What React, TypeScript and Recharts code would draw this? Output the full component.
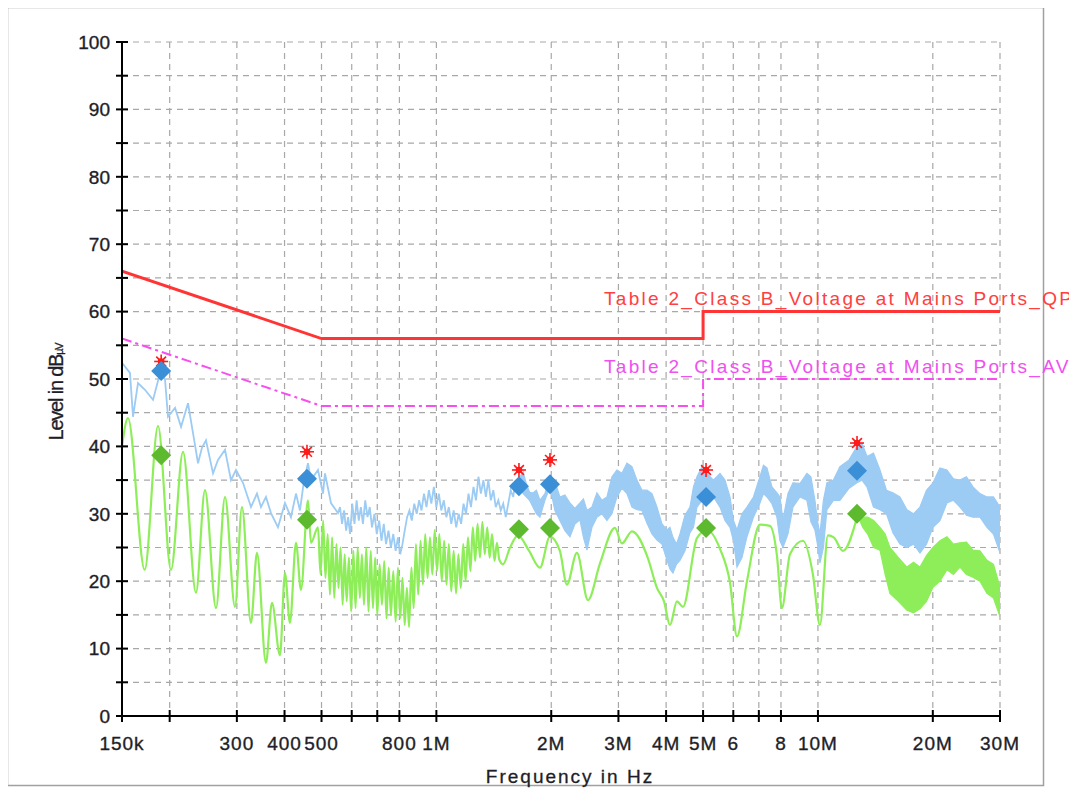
import React from "react";
import {
  ComposedChart,
  XAxis,
  YAxis,
  CartesianGrid,
  Line,
  Area,
  Scatter,
} from "recharts";

// axis ticks (frequency in MHz, log scale)
const xTicks = [0.15, 0.2, 0.3, 0.4, 0.5, 0.6, 0.7, 0.8, 1, 2, 3, 4, 5, 6, 7, 8, 10, 20, 30];
const xTickLabels = ["150k", "", "300", "400", "500", "", "", "800", "1M", "2M", "3M", "4M", "5M", "6", "", "8", "10M", "20M", "30M"];
const yTicks = [0, 5, 10, 15, 20, 25, 30, 35, 40, 45, 50, 55, 60, 65, 70, 75, 80, 85, 90, 95, 100];

// limit lines
const qpLimitFreq = [0.15, 0.5, 5, 5, 30];
const qpLimitLevel = [66, 56, 56, 60, 60];
const avLimitFreq = [0.15, 0.5, 5, 5, 30];
const avLimitLevel = [56, 46, 46, 50, 50];

// peak scan (light blue), thin part up to ~1.65 MHz
const pkLineFreq = [
  0.15, 0.1574, 0.1603, 0.1652, 0.1723, 0.1809, 0.1887, 0.1944, 0.198, 0.2066,
  0.2142, 0.2234, 0.2302, 0.2373, 0.243, 0.249, 0.2598, 0.2677, 0.2793, 0.2895,
  0.2984, 0.3113, 0.3267, 0.3387, 0.347, 0.3576, 0.3686, 0.3845, 0.401, 0.4158,
  0.4286, 0.439, 0.45, 0.4608, 0.4692, 0.4895, 0.5045, 0.5106, 0.5294, 0.5523,
  0.559, 0.566, 0.573, 0.58, 0.587, 0.594, 0.602, 0.61, 0.618, 0.626,
  0.634, 0.642, 0.651, 0.66, 0.669, 0.678, 0.688, 0.698, 0.708, 0.718,
  0.728, 0.738, 0.749, 0.76, 0.771, 0.782, 0.793, 0.804, 0.815, 0.826,
  0.838, 0.85, 0.862, 0.875, 0.888, 0.901, 0.914, 0.928, 0.942, 0.956,
  0.97, 0.985, 1.0, 1.015, 1.03, 1.046, 1.062, 1.078, 1.094, 1.11,
  1.127, 1.144, 1.161, 1.178, 1.196, 1.214, 1.232, 1.251, 1.27, 1.289,
  1.308, 1.328, 1.348, 1.368, 1.389, 1.41, 1.431, 1.453, 1.475, 1.497,
  1.52, 1.543, 1.566, 1.59, 1.614, 1.638, 1.656,
];
const pkLineLevel = [
  52.4, 50.9, 44.4, 49.4, 48.4, 46.9, 50.9, 50.0, 44.4, 45.7,
  42.9, 46.4, 42.0, 37.5, 39.8, 40.9, 36.0, 38.0, 39.5, 35.0,
  36.5, 34.6, 31.0, 33.0, 31.0, 32.5, 30.1, 28.0, 31.6, 29.5,
  33.0, 30.5, 35.0, 37.5, 35.0, 36.5, 33.0, 36.0, 31.6, 30.1,
  31.0, 28.5, 30.5, 27.5, 29.5, 27.0, 31.5, 28.5, 32.0, 29.0,
  31.0, 28.5, 32.0, 29.5, 31.0, 28.0, 30.0, 27.0, 29.0, 26.0,
  28.5, 25.5, 27.5, 25.0, 27.0, 24.5, 26.5, 24.0, 25.5, 27.5,
  29.5, 30.5, 29.0, 31.5, 30.0, 32.0, 30.5, 33.0, 31.0, 33.5,
  31.5, 34.0, 31.0, 33.0, 30.5, 32.0, 29.5, 31.0, 28.5, 30.5,
  28.0, 30.0, 28.5, 31.5, 30.0, 33.0, 31.0, 34.0, 32.0, 35.5,
  33.0, 35.0, 32.5, 35.0, 32.0, 33.5, 31.0, 32.0, 30.5, 31.5,
  29.5, 31.5, 33.5, 32.5, 35.0, 34.0, 35.0,
];

// peak scan, dense part drawn as an envelope
const pkBandFreq = [
  1.656, 1.688, 1.72, 1.755, 1.791, 1.829, 1.868, 1.925, 1.984, 2.045,
  2.107, 2.172, 2.239, 2.307, 2.378, 2.429, 2.481, 2.557, 2.635, 2.716,
  2.799, 2.885, 2.973, 3.064, 3.158, 3.255, 3.355, 3.458, 3.564, 3.673,
  3.785, 3.901, 4.021, 4.094, 4.169, 4.258, 4.349, 4.482, 4.62, 4.718,
  4.819, 4.966, 5.118, 5.323, 5.537, 5.706, 5.881, 6.006, 6.135, 6.323,
  6.516, 6.776, 7.047, 7.197, 7.351, 7.576, 7.808, 7.951, 8.096, 8.344,
  8.6, 8.97, 9.356, 9.585, 9.819, 9.969, 10.12, 10.336, 10.557, 10.98,
  11.419, 12.07, 12.653, 13.04, 13.441, 13.98, 14.54, 15.12, 15.72, 16.4,
  17.11, 17.8, 18.51, 19.25, 20.02, 20.88, 21.78, 22.65, 23.56, 24.5,
  25.48, 26.58, 27.73, 28.84, 30,
];
const pkBandHigh = [
  35.5, 36.2, 34.5, 33.2, 33.1, 33.5, 32.0, 33.0, 35.5, 34.8,
  32.5, 32.8, 31.6, 30.8, 31.6, 32.2, 30.5, 31.0, 33.1, 32.0,
  32.5, 35.5, 36.5, 36.0, 37.5, 37.0, 35.0, 33.5, 33.5, 33.0,
  31.0, 28.5, 27.6, 28.0, 26.5, 25.5, 27.0, 29.8, 31.0, 34.0,
  35.5, 37.0, 36.0, 35.0, 36.0, 35.0, 32.5, 29.0, 27.6, 30.0,
  31.0, 32.5, 35.5, 37.2, 36.8, 34.0, 33.1, 32.5, 29.1, 33.0,
  34.6, 34.5, 36.0, 35.5, 32.0, 29.0, 27.0, 32.0, 34.6, 35.0,
  37.0, 38.0, 40.0, 40.5, 38.5, 39.0, 36.5, 33.5, 33.1, 32.5,
  30.6, 30.0, 31.0, 33.5, 34.6, 36.8, 36.5, 35.2, 35.0, 35.5,
  34.0, 33.0, 32.5, 32.5, 31.0,
];
const pkBandLow = [
  34.0, 33.0, 32.5, 32.0, 31.0, 30.0, 29.5, 32.0, 34.0, 30.5,
  29.0, 27.5, 26.6, 28.5, 29.1, 26.5, 24.6, 28.0, 29.5, 30.0,
  29.0, 30.0, 32.5, 33.8, 33.0, 31.0, 30.6, 30.5, 28.6, 27.0,
  26.1, 25.5, 23.1, 21.8, 21.2, 22.5, 23.1, 24.5, 27.2, 28.0,
  31.0, 32.0, 31.6, 32.5, 31.0, 29.0, 28.0, 26.0, 22.1, 23.5,
  26.6, 29.5, 31.6, 33.0, 32.5, 31.5, 29.5, 26.0, 25.0, 27.0,
  31.0, 32.5, 32.0, 28.8, 27.6, 25.5, 22.7, 25.0, 30.6, 32.0,
  32.0, 33.8, 34.6, 35.0, 34.0, 31.0, 30.6, 30.0, 27.2, 25.5,
  25.0, 25.5, 24.2, 25.5, 28.0, 29.0, 31.6, 32.0, 31.0, 29.8,
  29.5, 29.5, 28.0, 27.0, 24.2,
];

// average scan (light green), thin part up to ~12.7 MHz
const avLineFreq = [
  0.15, 0.1555, 0.172, 0.1864, 0.2016, 0.2168, 0.2344, 0.2475, 0.2645, 0.2793,
  0.2966, 0.3094, 0.3267, 0.3387, 0.3576, 0.3708, 0.3891, 0.401, 0.4133, 0.4286,
  0.4417, 0.4608, 0.4692, 0.4895, 0.497, 0.505, 0.512, 0.519, 0.526, 0.533,
  0.54, 0.547, 0.554, 0.561, 0.568, 0.575, 0.582, 0.59, 0.598, 0.606,
  0.614, 0.622, 0.63, 0.638, 0.646, 0.655, 0.664, 0.673, 0.682, 0.691,
  0.7, 0.71, 0.72, 0.73, 0.74, 0.75, 0.76, 0.771, 0.782, 0.793,
  0.804, 0.815, 0.826, 0.837, 0.848, 0.86, 0.872, 0.884, 0.896, 0.909,
  0.922, 0.935, 0.948, 0.962, 0.976, 0.99, 1.004, 1.018, 1.033, 1.048,
  1.063, 1.078, 1.094, 1.11, 1.126, 1.142, 1.159, 1.176, 1.193, 1.21,
  1.228, 1.246, 1.264, 1.282, 1.301, 1.32, 1.339, 1.359, 1.379, 1.399,
  1.42, 1.441, 1.462, 1.4946, 1.56, 1.636, 1.75, 1.868, 1.984, 2.107,
  2.198, 2.335, 2.496, 2.683, 2.937, 3.064, 3.255, 3.585, 3.785, 3.95,
  4.094, 4.271, 4.428, 4.819, 5.118, 5.537, 5.881, 6.135, 6.516, 7.047,
  7.485, 7.808, 8.047, 8.446, 9.133, 9.701, 10.12, 10.62, 11.0, 11.628,
  12.73,
];
const avLineLevel = [
  40.0, 44.2, 21.7, 43.0, 21.7, 39.2, 18.3, 33.5, 16.0, 32.5,
  16.2, 31.0, 13.8, 24.2, 7.9, 16.8, 9.0, 21.2, 13.8, 25.7,
  18.7, 32.0, 25.7, 28.0, 21.0, 29.0, 20.5, 27.0, 18.0, 26.5,
  17.5, 25.5, 19.0, 25.0, 16.5, 24.0, 17.0, 23.5, 15.5, 24.5,
  16.0, 25.0, 17.5, 24.0, 16.5, 25.0, 15.5, 24.5, 16.0, 23.5,
  15.0, 22.5, 16.5, 23.0, 14.5, 22.0, 15.0, 21.5, 14.0, 22.0,
  14.5, 20.5, 13.5, 19.0, 13.2, 22.0, 16.0, 25.5, 18.0, 26.0,
  19.5, 27.0, 20.5, 26.5, 21.0, 27.6, 21.5, 27.0, 20.0, 26.0,
  19.5, 25.5, 18.5, 24.5, 18.2, 24.0, 19.0, 25.5, 20.0, 26.5,
  21.5, 28.0, 23.0, 28.5, 23.5, 28.8, 24.0, 28.0, 23.5, 27.0,
  23.0, 25.7, 23.2, 22.5, 25.0, 26.8, 24.5, 22.0, 26.6, 24.5,
  19.5, 24.2, 17.2, 22.6, 27.9, 25.6, 27.4, 23.4, 19.0, 17.0,
  13.5, 17.0, 16.2, 26.4, 27.6, 24.8, 19.8, 11.8, 20.0, 28.4,
  28.2, 23.8, 16.0, 24.0, 26.0, 21.0, 13.5, 26.8, 26.5, 24.5,
  30.0,
];

// average scan, dense part above ~12.7 MHz
const avBandFreq = [
  12.73, 13.1, 13.5, 14.0, 14.54, 15.0, 15.44, 16.25, 17.11, 17.8,
  18.51, 19.25, 20.02, 20.88, 21.78, 22.65, 23.56, 24.5, 25.48, 26.58,
  27.73, 28.84, 30,
];
const avBandHigh = [
  30.3, 29.5, 29.5, 29.0, 28.0, 27.0, 25.0, 23.5, 22.1, 22.8,
  22.1, 23.8, 25.0, 26.0, 26.6, 25.5, 25.7, 25.8, 24.6, 24.5,
  23.1, 22.5, 19.1,
];
const avBandLow = [
  29.6, 28.0, 27.0, 25.0, 24.6, 21.0, 18.2, 17.0, 15.7, 15.3,
  15.9, 17.0, 19.1, 20.0, 21.7, 21.0, 22.1, 21.0, 20.6, 20.0,
  18.2, 17.5, 14.7,
];

// final measurement markers
const markFreq = [0.19, 0.458, 1.646, 1.985, 5.09, 12.66];
const qpPeakLevel = [52.6, 39.2, 36.5, 38.0, 36.5, 40.5];
const qpFinalLevel = [51.2, 35.2, 34.1, 34.4, 32.5, 36.4];
const avFinalLevel = [38.7, 29.1, 27.7, 27.9, 27.9, 30.0];

const toRows = (f: number[], v: number[]) => f.map((x, i) => ({ f: x, v: v[i] }));
const toRange = (f: number[], lo: number[], hi: number[]) =>
  f.map((x, i) => ({ f: x, r: [lo[i], hi[i]] }));

const qpLimitRows = toRows(qpLimitFreq, qpLimitLevel);
const avLimitRows = toRows(avLimitFreq, avLimitLevel);
const pkLineRows = toRows(pkLineFreq, pkLineLevel);
const pkBandRows = toRange(pkBandFreq, pkBandLow, pkBandHigh);
const avLineRows = toRows(avLineFreq, avLineLevel);
const avBandRows = toRange(avBandFreq, avBandLow, avBandHigh);
const starRows = toRows(markFreq, qpPeakLevel);
const qpRows = toRows(markFreq, qpFinalLevel);
const avMarkRows = toRows(markFreq, avFinalLevel);

const FONT = "'Liberation Sans', Arial, sans-serif";
const TEXT = "#1e1e28";
const PK = "#9ccbf4";
const AV = "#8eee5a";

function XTick(props: any) {
  const { x, y, payload } = props;
  const label = xTickLabels[xTicks.indexOf(payload.value)] ?? "";
  return (
    <g>
      <line x1={x} x2={x} y1={y - 27} y2={y - 15} stroke="#000" strokeWidth={2} />
      <text x={x} y={y} dy="0.71em" textAnchor="middle" fontFamily={FONT} fontSize={19}
        letterSpacing={1} fill={TEXT} stroke={TEXT} strokeWidth={0.35}>
        {label}
      </text>
    </g>
  );
}

function YTick(props: any) {
  const { x, y, payload } = props;
  return (
    <g>
      <line x1={x + 6} x2={x + 18} y1={y} y2={y} stroke="#000" strokeWidth={2} />
      <text x={x} y={y} dy="0.355em" textAnchor="end" fontFamily={FONT} fontSize={19}
        fill={TEXT} stroke={TEXT} strokeWidth={0.35}>
        {payload.value % 10 === 0 ? payload.value : ""}
      </text>
    </g>
  );
}

function Diamond(color: string) {
  return (props: any) => {
    const { cx, cy } = props;
    return (
      <path
        d={`M${cx},${cy - 10} L${cx + 10},${cy} L${cx},${cy + 10} L${cx - 10},${cy} Z`}
        fill={color}
      />
    );
  };
}

function Star(props: any) {
  const { cx, cy } = props;
  const r = 7;
  const d = r * 0.7;
  return (
    <g stroke="#ff1a1a" strokeWidth={1.6}>
      <line x1={cx - r} x2={cx + r} y1={cy} y2={cy} />
      <line x1={cx} x2={cx} y1={cy - r} y2={cy + r} />
      <line x1={cx - d} x2={cx + d} y1={cy - d} y2={cy + d} />
      <line x1={cx - d} x2={cx + d} y1={cy + d} y2={cy - d} />
      <circle cx={cx} cy={cy} r={2.5} fill="#ff1a1a" />
    </g>
  );
}

export default function App() {
  return (
    <div style={{ position: "relative", width: 1077, height: 791, margin: "-8px 0 0 -8px", background: "#fff", overflow: "hidden" }}>
      <ComposedChart width={1077} height={791} margin={{ top: 42, right: 77, left: 62, bottom: 45 }}>
        <CartesianGrid stroke="#a8a8a8" strokeDasharray="6 5" strokeWidth={1.2} />
        <XAxis
          dataKey="f"
          type="number"
          scale="log"
          domain={[0.15, 30]}
          allowDataOverflow
          ticks={xTicks}
          interval={0}
          height={30}
          tickSize={6}
          tickMargin={15}
          tickLine={false}
          tick={<XTick />}
          axisLine={{ stroke: "#000", strokeWidth: 2 }}
        />
        <YAxis
          type="number"
          domain={[0, 100]}
          ticks={yTicks}
          interval={0}
          width={60}
          tickSize={6}
          tickMargin={6}
          tickLine={false}
          tick={<YTick />}
          axisLine={{ stroke: "#000", strokeWidth: 2 }}
        />
        <Area data={pkBandRows} dataKey="r" type="linear" stroke={PK} strokeWidth={1.2}
          fill={PK} fillOpacity={1} isAnimationActive={false} />
        <Line data={pkLineRows} dataKey="v" type="linear" stroke={PK} strokeWidth={1.8}
          dot={false} isAnimationActive={false} />
        <Area data={avBandRows} dataKey="r" type="linear" stroke={AV} strokeWidth={1.2}
          fill={AV} fillOpacity={1} isAnimationActive={false} />
        <Line data={avLineRows} dataKey="v" type="monotone" stroke={AV} strokeWidth={2.2}
          dot={false} isAnimationActive={false} />
        <Line
          data={avLimitRows}
          dataKey="v"
          type="linear"
          stroke="#f84ef0"
          strokeWidth={2}
          strokeDasharray="10 4 3 4"
          dot={false}
          isAnimationActive={false}
        />
        <Line
          data={qpLimitRows}
          dataKey="v"
          type="linear"
          stroke="#ff3535"
          strokeWidth={3}
          dot={false}
          isAnimationActive={false}
        />
        <Scatter data={starRows} dataKey="v" shape={Star} isAnimationActive={false} />
        <Scatter data={qpRows} dataKey="v" shape={Diamond("#3b8fd6")} isAnimationActive={false} />
        <Scatter data={avMarkRows} dataKey="v" shape={Diamond("#5db92e")} isAnimationActive={false} />
      </ComposedChart>
      <svg width={1077} height={791} style={{ position: "absolute", left: 0, top: 0, pointerEvents: "none" }}>
        <rect x={7.5} y={7.5} width={1036} height={778} fill="none" stroke="#a0a0a0" strokeWidth={1.5} />
        <text x={604} y={305} fontFamily={FONT} fontSize={19} letterSpacing={2.3} fill="#ff4040">
          Table 2_Class B_Voltage at Mains Ports_QP
        </text>
        <text x={604} y={373} fontFamily={FONT} fontSize={19} letterSpacing={2.3} fill="#f050f0">
          Table 2_Class B_Voltage at Mains Ports_AV
        </text>
        <text x={570} y={783} textAnchor="middle" fontFamily={FONT} fontSize={19} letterSpacing={2}
          fill={TEXT} stroke={TEXT} strokeWidth={0.3}>
          Frequency in Hz
        </text>
        <text
          x={63}
          y={392}
          textAnchor="middle"
          transform="rotate(-90 63 392)"
          fontFamily={FONT}
          fontSize={20}
          letterSpacing={-1.2}
          fill={TEXT}
          stroke={TEXT}
          strokeWidth={0.3}
        >
          Level in dB<tspan fontSize={11}>µV</tspan>
        </text>
      </svg>
    </div>
  );
}
